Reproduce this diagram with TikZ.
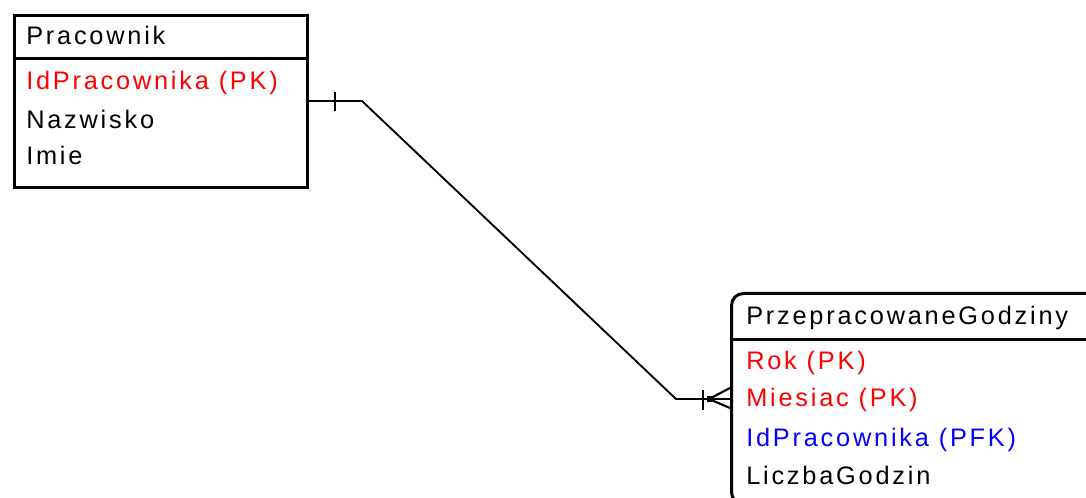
\documentclass[tikz,border=0pt]{standalone}
\usepackage{fontspec}
\setmainfont{Liberation Sans}[LetterSpace=11]
\usetikzlibrary{calc}
\definecolor{pkred}{RGB}{255,0,0}
\definecolor{fkblue}{RGB}{0,0,255}
\begin{document}
\begin{tikzpicture}[x=0.75pt,y=-0.75pt,
  txt/.style={anchor=base west,inner sep=0pt,font=\fontsize{19}{22}\selectfont},
  pk/.style={txt,text=pkred},
  fk/.style={txt,text=fkblue},
  entity/.style={draw,line width=2.25pt,inner sep=0pt,anchor=north west},
  conn/.style={line width=1.4pt},
  tick/.style={line width=1.6pt}]
\useasboundingbox (0,0) rectangle (1086,498);
\clip (0,0) rectangle (1086,498);
\fill[white] (0,0) rectangle (1086,498);
% Pracownik
\node[entity,minimum width=219.75pt,minimum height=129pt] (pr) at (13,14) {};
\draw[line width=2.25pt] (pr.west |- 0,59) -- (pr.east |- 0,59);
\node[txt] (prt) at (26,45) {Pracownik};
\node[pk] (pra1) at (26,90) {IdPracownika (PK)};
\node[txt] (pra2) at (26,129) {Nazwisko};
\node[txt] (pra3) at (26,165) {Imie};
% PrzepracowaneGodziny
\node[entity,rounded corners=9pt,minimum width=300pt,minimum height=158pt] (pg) at (730,292) {};
\draw[line width=2.25pt] (pg.west |- 0,340) -- (1090,340);
\node[txt] (pgt) at (746,325) {PrzepracowaneGodziny};
\node[pk] (pga1) at (746,370) {Rok (PK)};
\node[pk] (pga2) at (746,407) {Miesiac (PK)};
\node[fk] (pga3) at (746,447) {IdPracownika (PFK)};
\node[txt] (pga4) at (746,485) {LiczbaGodzin};
% relationship
\coordinate (c1) at (362,101);
\coordinate (c2) at (676,399);
\coordinate (cf) at (709,399);
\draw[conn] (pr.east |- c1) -- (c1) -- (c2) -- (pg.west |- c2);
% one (mandatory) tick near Pracownik
\draw[tick] (335,92) -- (335,111);
% tick and crow's foot near PrzepracowaneGodziny
\draw[tick] (703,390) -- (703,410);
\draw[tick] (cf) -- (pg.west |- 0,388);
\draw[tick] (cf) -- (pg.west |- 0,408);
\fill (cf) ++(-2,-3) rectangle ++(5,6);
\end{tikzpicture}
\end{document}
